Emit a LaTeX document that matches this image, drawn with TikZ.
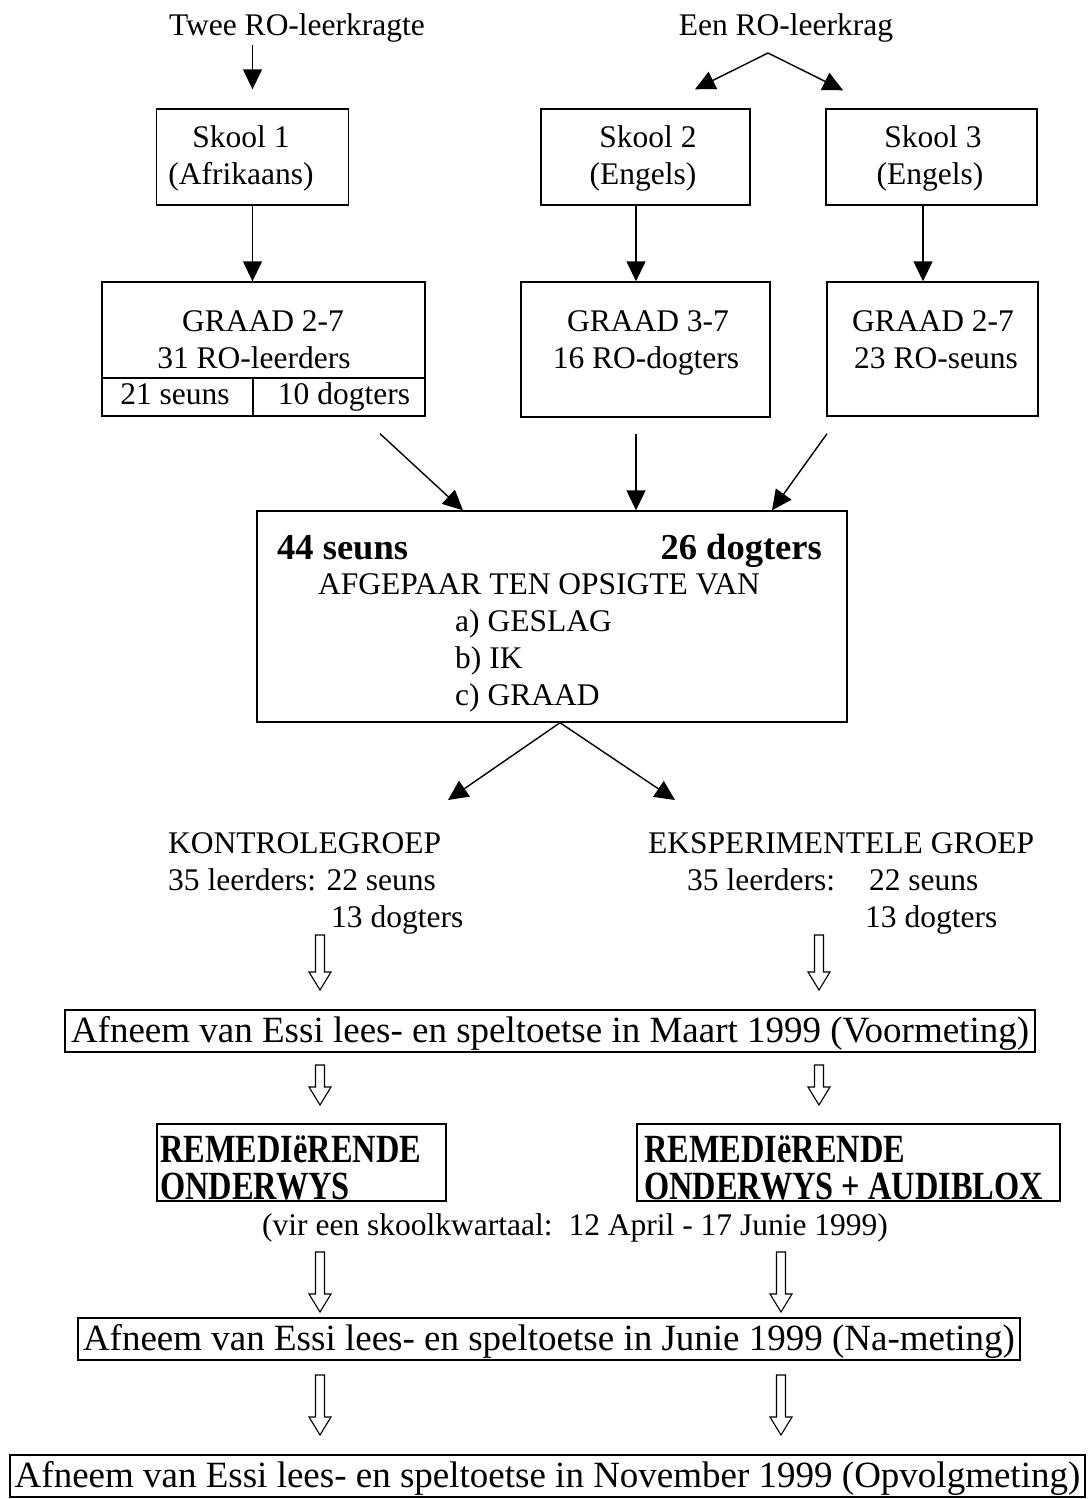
\documentclass[tikz,border=0pt]{standalone}
\usepackage{fontspec}
\setmainfont{Liberation Serif}
\usetikzlibrary{arrows.meta}
\newcommand\fnorm{\fontsize{31.5}{37}\selectfont}
\newcommand\fbig{\fontsize{37}{42}\selectfont}
\newcommand\fbold{\fontsize{36.5}{42}\selectfont\bfseries}
\newcommand\frem[1]{\scalebox{0.81}[1]{\fontsize{40}{42}\selectfont\bfseries #1}}
\begin{document}
\begin{tikzpicture}[x=1pt,y=-1pt,
  lw/.style={line width=1.4pt},
  box/.style={draw, lw, inner sep=0pt},
  tbox/.style={draw, lw, inner sep=0pt, font=\fbig, text height=30pt, text depth=8pt, minimum height=42pt},
  tx/.style={inner sep=0pt, anchor=base, font=\fnorm},
  txl/.style={tx, anchor=base west},
  arr/.style={lw, -{Triangle[length=20pt,width=19pt]}},
  pics/harrow/.style={code={
    \draw[line width=1.1pt, fill=white] (-4.5,0) -- (-4.5,#1-18) -- (-11,#1-18) -- (0,#1)
      -- (11,#1-18) -- (4.5,#1-18) -- (4.5,0) -- cycle;}}
]
\fill[white] (0,0) rectangle (1090,1499);
\useasboundingbox (0,0) rectangle (1090,1499);

% top labels
\node[tx] (twee) at (297,35) {Twee RO-leerkragte};
\node[tx] (een) at (786,35) {Een RO-leerkrag};

% schools
\node[box, minimum width=192pt, minimum height=96pt] (s1) at (252.5,157) {};
\node[tx] (s1a) at (241,147.5) {Skool 1};
\node[tx] (s1b) at (241,184.5) {(Afrikaans)};
\node[box, minimum width=209pt, minimum height=96pt] (s2) at (645.5,157) {};
\node[tx] (s2a) at (648,147.5) {Skool 2};
\node[tx] (s2b) at (643,184.5) {(Engels)};
\node[box, minimum width=211pt, minimum height=96pt] (s3) at (931.5,157) {};
\node[tx] (s3a) at (933,147.5) {Skool 3};
\node[tx] (s3b) at (930,184.5) {(Engels)};

% grades
\node[box, minimum width=323pt, minimum height=134pt] (g1) at (263.5,349) {};
\node[tx] (g1a) at (263,331.5) {GRAAD 2-7};
\node[tx] (g1b) at (254,368) {31 RO-leerders};
\coordinate (g1d) at (253,378);
\draw[lw] (g1d -| g1.west) -- (g1d -| g1.east);
\draw[lw] (g1d) -- (g1d |- g1.south);
\node[tx] (g1c) at (175,404.5) {21 seuns};
\node[tx] (g1e) at (344,404.5) {10 dogters};
\node[box, minimum width=249pt, minimum height=135pt] (g2) at (645.5,349.5) {};
\node[tx] (g2a) at (648,331.5) {GRAAD 3-7};
\node[tx] (g2b) at (646,368) {16 RO-dogters};
\node[box, minimum width=211pt, minimum height=134pt] (g3) at (932.5,349) {};
\node[tx] (g3a) at (933,331.5) {GRAAD 2-7};
\node[tx] (g3b) at (936,368) {23 RO-seuns};

% centre box
\node[box, minimum width=590pt, minimum height=211pt] (c) at (552,616.5) {};
\node[tx, anchor=base west, font=\fbold] (cb1) at (277,559) {44 seuns};
\node[tx, anchor=base east, font=\fbold] (cb2) at (822,559) {26 dogters};
\node[tx] (cl1) at (539,594.5) {AFGEPAAR TEN OPSIGTE VAN};
\node[txl] (cl2) at (455,631.5) {a) GESLAG};
\node[txl] (cl3) at (455,668.5) {b) IK};
\node[txl] (cl4) at (455,705.5) {c) GRAAD};

% groups
\node[txl] (k1) at (168,853.5) {KONTROLEGROEP};
\node[txl] (k2) at (168,890.5) {35 leerders: 22 seuns};
\node[txl] (k3) at (331,927.5) {13 dogters};
\node[txl] (e1) at (648,853.5) {EKSPERIMENTELE GROEP};
\node[txl] (e2) at (687,890.5) {35 leerders:\hspace{34pt}22 seuns};
\node[txl] (e3) at (865,927.5) {13 dogters};

% measurement boxes
\node[tbox, minimum width=970pt] (voor) at (550,1031) {Afneem van Essi lees- en speltoetse in Maart 1999 (Voormeting)};
\node[box, minimum width=289pt, minimum height=77pt] (r1) at (301.5,1162.5) {};
\node[txl] (r1a) at (160,1162) {\frem{REMEDIëRENDE}};
\node[txl] (r1b) at (160,1199) {\frem{ONDERWYS}};
\node[box, minimum width=423pt, minimum height=77pt] (r2) at (848.5,1162.5) {};
\node[txl] (r2a) at (644,1162) {\frem{REMEDIëRENDE}};
\node[txl] (r2b) at (644,1199) {\frem{ONDERWYS + AUDIBLOX}};
\node[txl] (vir) at (262,1235.5) {(vir een skoolkwartaal:\hspace{16pt}12 April - 17 Junie 1999)};
\node[tbox, minimum width=942pt] (na) at (549,1339) {Afneem van Essi lees- en speltoetse in Junie 1999 (Na-meting)};
\node[tbox, minimum width=1075pt] (opv) at (547.5,1476) {Afneem van Essi lees- en speltoetse in November 1999 (Opvolgmeting)};

% connectors (top)
\draw[arr] ([yshift=-3pt]twee.south -| s1.north) -- ([yshift=19pt]s1.north);
\coordinate (apex) at ([yshift=-11pt]een.south -| 768,0);
\coordinate (t2) at ([xshift=49.5pt,yshift=19pt]s2.north);
\coordinate (t3) at ([xshift=-88.5pt,yshift=18pt]s3.north);
\draw[arr] (apex) -- (t2);
\draw[arr] (apex) -- (t3);
\draw[arr] (s1.south) -- (s1.south |- g1.north);
\draw[arr] ([xshift=-9.5pt]s2.south) -- ([xshift=-9.5pt]g2.north);
\draw[arr] ([xshift=-8.5pt]s3.south) -- ([xshift=-8.5pt]s3.south |- g3.north);

% into centre box
\draw[arr] ([xshift=116.5pt,yshift=-17pt]g1.south) -- ([xshift=-89pt]c.north);
\draw[arr] ([xshift=-9.5pt,yshift=-16pt]g2.south) -- ([xshift=84pt]c.north);
\draw[arr] ([xshift=-105.5pt,yshift=-17pt]g3.south) -- ([xshift=220pt]c.north);

% out of centre box
\coordinate (kt) at (448,800);
\coordinate (et) at (675,800);
\draw[arr] ([xshift=8pt]c.south) -- (kt);
\draw[arr] ([xshift=8pt]c.south) -- (et);

% hollow arrows
\pic (h1) at (320,935) {harrow=55};
\pic (h2) at (819,935) {harrow=55};
\pic (h3) at (320,1065) {harrow=40};
\pic (h4) at (819,1065) {harrow=40};
\pic (h5) at (320,1252) {harrow=60};
\pic (h6) at (781,1252) {harrow=60};
\pic (h7) at (320,1375) {harrow=60};
\pic (h8) at (781,1375) {harrow=60};
\end{tikzpicture}
\end{document}
